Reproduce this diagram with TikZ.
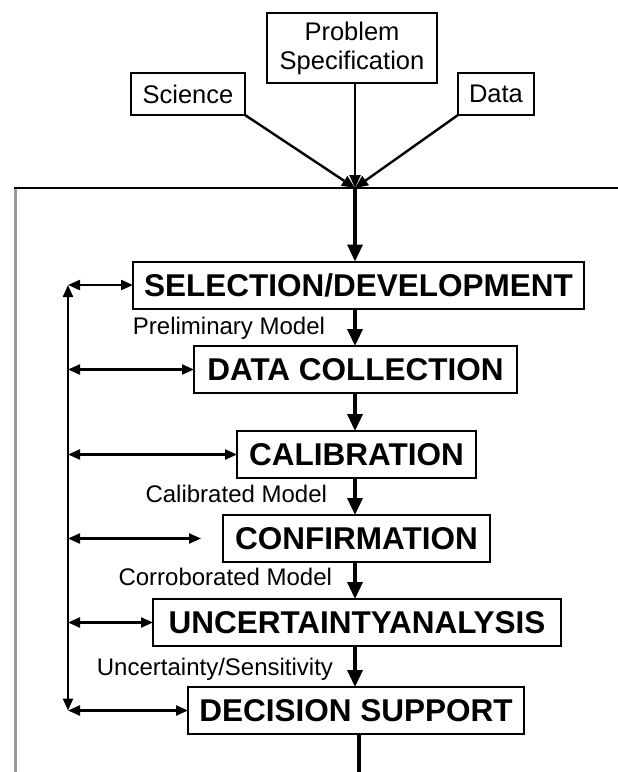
\documentclass[tikz,border=0pt]{standalone}
\usepackage{fontspec}
\setmainfont{Liberation Sans}
\usepackage{tikz}
\usetikzlibrary{arrows.meta,positioning,calc}
\definecolor{FrameGray}{HTML}{9A9A9A}

\begin{document}
\begin{tikzpicture}[x=1pt,y=-1pt,
  every node/.style={inner sep=0pt,outer sep=0pt},
  source/.style={draw,line width=2pt,font=\fontsize{25.5}{29}\selectfont,align=center},
  stage/.style={draw,line width=2pt,minimum height=47pt,font=\fontsize{31.5}{35}\selectfont\bfseries},
  lbl/.style={font=\fontsize{24}{27}\selectfont,anchor=base east},
  feed/.style={line width=2.2pt,{Triangle[length=12pt,width=10pt]}-{Triangle[length=12pt,width=10pt]}},
  flow/.style={line width=3.4pt,-{Triangle[length=17pt,width=15pt]}},
  input/.style={line width=2.4pt,-{Triangle[length=13pt,width=11pt]}}]
\useasboundingbox (0,0) rectangle (618,772);
\coordinate (conv) at (355,188);
\coordinate (fb) at (68,0);
\coordinate (confgap) at (201,0);
\coordinate (exit) at (359,772);

\node[source,minimum width=114pt,minimum height=42pt] (sci) at (188,94) {Science};
\node[source,minimum width=170pt,minimum height=70pt] (prob) at (352,48) {Problem\\Specification};
\node[source,minimum width=76pt,minimum height=42pt] (data) at (496,94) {Data};

\node[stage,minimum width=451pt] (sel) at (358.5,285) {SELECTION/DEVELOPMENT};
\node[stage,minimum width=323pt] (dcol) at (355.5,369.5) {DATA COLLECTION};
\node[stage,minimum width=239pt] (calib) at (356.5,454.5) {CALIBRATION};
\node[stage,minimum width=267pt] (conf) at (356.5,538.5) {CONFIRMATION};
\node[stage,minimum width=408pt] (unc) at (357,622.5) {UNCERTAINTYANALYSIS};
\node[stage,minimum width=336pt] (dec) at (356,710.5) {DECISION SUPPORT};

\node[lbl] (prelim) at (325,334) {Preliminary Model};
\node[lbl] (calmod) at (327,502) {Calibrated Model};
\node[lbl] (cormod) at (332,585) {Corroborated Model};
\node[lbl] (sens) at (333,675) {Uncertainty/Sensitivity};

% open frame round the modelling steps
\draw[FrameGray,line width=3pt] (15,772) -- (15,188);
\draw[line width=1.4pt] (14,188) -- (618,188);

\draw[input] (sci.south east) -- (conv);
\draw[input] (prob.south -| conv) -- (conv);
\draw[input] (data.south west) -- (conv);

\draw[flow] (conv) -- (sel.north -| conv);
\foreach \u/\v in {sel/dcol,dcol/calib,calib/conf,conf/unc,unc/dec}
  \draw[flow] (\u.south -| conv) -- (\v.north -| conv);
\draw[line width=3.4pt] (dec.south -| exit) -- (exit);

\draw[feed] (fb |- sel.west) -- (fb |- dec.west);
\foreach \s in {sel,dcol,calib,unc,dec}
  \draw[feed] (fb |- \s.west) -- (\s.west);
\draw[feed] (fb |- conf.west) -- (confgap |- conf.west);
\end{tikzpicture}
\end{document}
